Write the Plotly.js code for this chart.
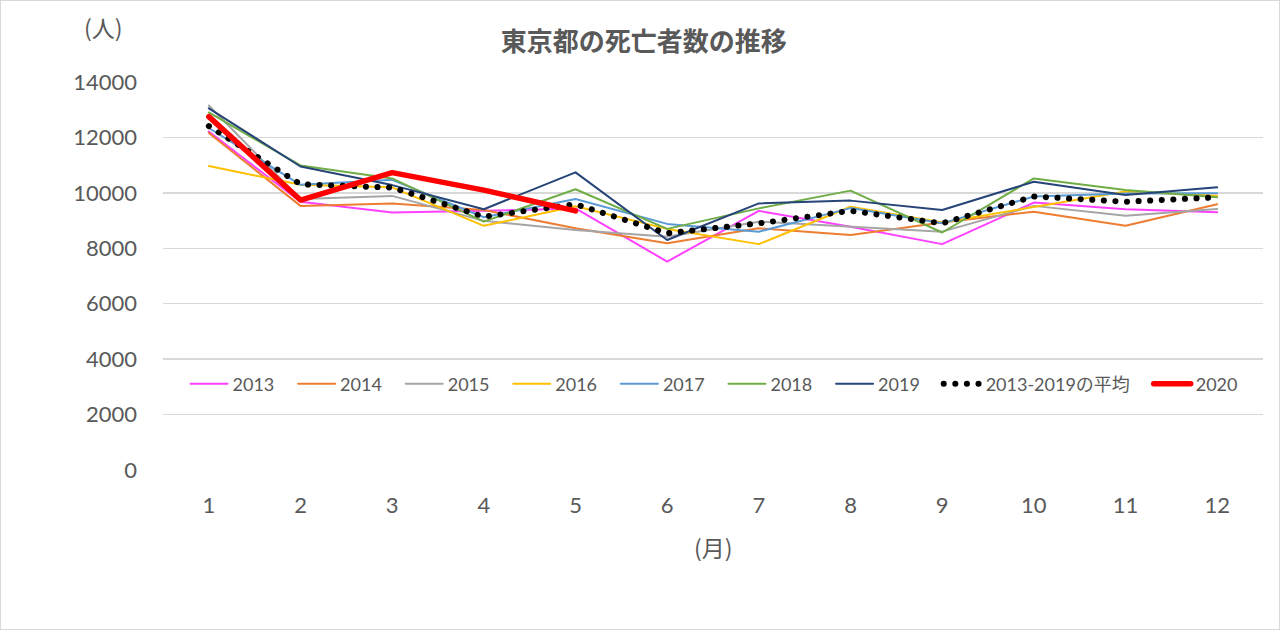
<!DOCTYPE html>
<html>
<head>
<meta charset="utf-8">
<script src="https://cdn.plot.ly/plotly-3.0.1.min.js"></script>
<style>
  html, body { margin: 0; padding: 0; background: #fff; }
  #frame { width: 1280px; height: 630px; box-sizing: border-box; border: 1px solid #d9d9d9; position: relative; overflow: hidden; }
  #chart { position: absolute; left: -1px; top: -1px; width: 1280px; height: 630px; }
  path.js-line { stroke-linecap: round; stroke-linejoin: round; }
</style>
</head>
<body>
<div id="frame"><div id="chart"></div></div>
<script>
const months = [1, 2, 3, 4, 5, 6, 7, 8, 9, 10, 11, 12];
const monthLabels = ['1', '2', '3', '4', '5', '6', '7', '8', '9', '10', '11', '12'];

const y2013 = [12210, 9680, 9290, 9350, 9440, 7520, 9350, 8780, 8150, 9650, 9410, 9300];
const y2014 = [12160, 9530, 9620, 9380, 8720, 8180, 8720, 8480, 8930, 9320, 8810, 9590];
const y2015 = [13150, 9780, 9890, 8990, 8660, 8420, 8960, 8780, 8600, 9530, 9170, 9420];
const y2016 = [10970, 10290, 10200, 8810, 9520, 8700, 8150, 9500, 8930, 9500, 10050, 9900];
const y2017 = [12340, 10290, 10470, 9120, 9780, 8880, 8600, 9450, 8900, 9870, 9980, 9990];
const y2018 = [12900, 10990, 10520, 8960, 10130, 8700, 9440, 10080, 8570, 10520, 10100, 9840];
const y2019 = [13050, 10950, 10280, 9410, 10740, 8300, 9620, 9720, 9380, 10400, 9920, 10200];
const avg1319 = [12410, 10310, 10190, 9140, 9590, 8540, 8900, 9350, 8900, 9870, 9680, 9840];
const y2020 = [12750, 9740, 10730, 10100, 9350];
const months2020 = [1, 2, 3, 4, 5];

const seriesNames = ['2013', '2014', '2015', '2016', '2017', '2018', '2019'];
const avgName = '2013-2019の平均';
const name2020 = '2020';
const seriesData = [y2013, y2014, y2015, y2016, y2017, y2018, y2019];
const seriesColors = ['#FF40FF', '#ED7D31', '#A5A5A5', '#FFC000', '#5B9BD5', '#70AD47', '#264478'];

// trailing non-breaking spaces widen the gap between legend entries
const pad = '\u00a0\u00a0\u00a0';

const traces = seriesNames.map((n, i) => ({
  type: 'scatter', mode: 'lines', name: n + pad,
  x: months, y: seriesData[i],
  line: { color: seriesColors[i], width: 2 }
}));
traces.push({
  type: 'scatter', mode: 'lines', name: avgName + pad,
  x: months, y: avg1319,
  line: { color: '#000000', width: 6, dash: '0.1px,11.5px' }
});
traces.push({
  type: 'scatter', mode: 'lines', name: name2020,
  x: months2020, y: y2020,
  line: { color: '#FF0000', width: 5.5 }
});

const fontFam = "Lato, 'Noto Sans CJK JP', sans-serif";
const layout = {
  width: 1280, height: 630,
  margin: { l: 163, r: 17, t: 82, b: 160 },
  paper_bgcolor: '#ffffff', plot_bgcolor: '#ffffff',
  font: { family: fontFam, color: '#595959', size: 22 },
  title: {
    text: '<b>東京都の死亡者数の推移</b>',
    font: { family: "'Noto Sans CJK JP', sans-serif", size: 26, color: '#595959' },
    x: 0.503, xref: 'container', xanchor: 'center',
    y: 1 - 41.5 / 630, yref: 'container', yanchor: 'middle'
  },
  xaxis: {
    range: [0.5, 12.5], tickmode: 'array', tickvals: months, ticktext: monthLabels,
    showgrid: false, zeroline: false, showline: false, ticks: '',
    ticklabelstandoff: 20, fixedrange: true
  },
  yaxis: {
    range: [0, 14000], dtick: 2000, tickformat: 'd',
    showgrid: true, gridcolor: '#d9d9d9', gridwidth: 1.5,
    zeroline: false, showline: false, ticks: '',
    ticklabelstandoff: 25, fixedrange: true
  },
  showlegend: true,
  legend: {
    orientation: 'h', x: (714 - 163) / 1100, xanchor: 'center', y: (470 - 384) / 388, yanchor: 'middle',
    bgcolor: 'rgba(0,0,0,0)', font: { size: 18, color: '#595959' },
    itemwidth: 37, traceorder: 'normal'
  },
  annotations: [
    { text: '(人)', xref: 'paper', yref: 'paper', x: (103 - 163) / 1100, y: (470 - 27) / 388,
      xanchor: 'center', yanchor: 'middle', showarrow: false,
      font: { size: 23, color: '#595959', family: "'Noto Sans CJK JP', sans-serif" } },
    { text: '(月)', xref: 'paper', yref: 'paper', x: (713 - 163) / 1100, y: (470 - 547) / 388,
      xanchor: 'center', yanchor: 'middle', showarrow: false,
      font: { size: 23, color: '#595959', family: "'Noto Sans CJK JP', sans-serif" } }
  ]
};

Plotly.newPlot('chart', traces, layout, { displayModeBar: false, staticPlot: true });
</script>
</body>
</html>
